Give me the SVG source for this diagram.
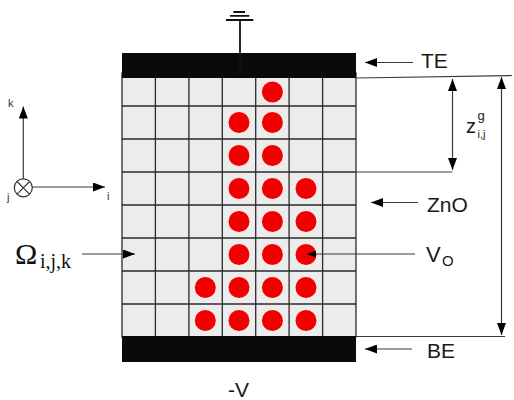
<svg xmlns="http://www.w3.org/2000/svg" width="514" height="400" viewBox="0 0 514 400">
<defs>
<style>
.cell{fill:#ececec;stroke:#2a2a2a;stroke-width:1.3}
.el{fill:#0a0a0a}
.dot{fill:#f20000}
.ln{stroke:#3a3a3a;stroke-width:1.2;fill:none}
.lbl{font-family:"Liberation Sans",Arial,sans-serif;fill:#1a1a1a}
.ax{font-family:"Liberation Sans",Arial,sans-serif;fill:#333;font-size:11px}
.om{font-family:"Liberation Serif","Times New Roman",serif;fill:#111}
</style>
<marker id="ah" viewBox="0 0 12 9" refX="12" refY="4.5" markerWidth="12" markerHeight="9" markerUnits="userSpaceOnUse" orient="auto-start-reverse">
<path d="M0,0 L12,4.5 L0,9 z" fill="#000"/>
</marker>
<marker id="ahs" viewBox="0 0 9 7" refX="9" refY="3.5" markerWidth="9" markerHeight="7" markerUnits="userSpaceOnUse" orient="auto-start-reverse">
<path d="M0,0 L9,3.5 L0,7 z" fill="#000"/>
</marker>
</defs>
<rect width="514" height="400" fill="#fff"/>

<g id="zno-grid">
<rect x="122" y="73" width="234" height="264" class="cell"/>
<path class="cell" style="fill:none" d="M155.4,73V337M188.9,73V337M222.3,73V337M255.7,73V337M289.1,73V337M322.6,73V337M122,106H356M122,139H356M122,172H356M122,205H356M122,238H356M122,271H356M122,304H356"/>
</g>

<g id="vacancies">
<circle class="dot" cx="272.4" cy="92" r="10.5"/>
<circle class="dot" cx="239" cy="122.5" r="10.5"/>
<circle class="dot" cx="272.4" cy="122.5" r="10.5"/>
<circle class="dot" cx="239" cy="155.5" r="10.5"/>
<circle class="dot" cx="272.4" cy="155.5" r="10.5"/>
<circle class="dot" cx="239" cy="188.5" r="10.5"/>
<circle class="dot" cx="272.4" cy="188.5" r="10.5"/>
<circle class="dot" cx="306" cy="188.5" r="10.5"/>
<circle class="dot" cx="239" cy="221.5" r="10.5"/>
<circle class="dot" cx="272.4" cy="221.5" r="10.5"/>
<circle class="dot" cx="306" cy="221.5" r="10.5"/>
<circle class="dot" cx="239" cy="254.5" r="10.5"/>
<circle class="dot" cx="272.4" cy="254.5" r="10.5"/>
<circle class="dot" cx="306" cy="254.5" r="10.5"/>
<circle class="dot" cx="205.3" cy="287.5" r="10.5"/>
<circle class="dot" cx="239" cy="287.5" r="10.5"/>
<circle class="dot" cx="272.4" cy="287.5" r="10.5"/>
<circle class="dot" cx="306" cy="287.5" r="10.5"/>
<circle class="dot" cx="205.3" cy="320.5" r="10.5"/>
<circle class="dot" cx="239" cy="320.5" r="10.5"/>
<circle class="dot" cx="272.4" cy="320.5" r="10.5"/>
<circle class="dot" cx="306" cy="320.5" r="10.5"/>
</g>

<g id="top-electrode">
<rect class="el" x="122" y="53" width="234" height="25"/>
</g>
<g id="bottom-electrode">
<rect class="el" x="122" y="336" width="234" height="26"/>
</g>

<g id="ground">
<path d="M240,20V76M226,20H253.3M230,15.8H249.3M233.3,12H245" stroke="#111" stroke-width="1.8" fill="none"/>
</g>

<g id="axes">
<circle cx="23.3" cy="187.8" r="9" fill="#fff" stroke="#333" stroke-width="1.2"/>
<path d="M17,181.5L29.6,194.1M29.6,181.5L17,194.1" stroke="#333" stroke-width="1.1"/>
<text class="ax" x="8" y="107">k</text>
<text class="ax" x="107" y="200">i</text>
<text class="ax" x="7" y="201">j</text>
</g>

<g id="connectors">
<line class="ln" x1="23.3" y1="178.8" x2="23.3" y2="106.5" marker-end="url(#ah)"/>
<line class="ln" x1="32.3" y1="187" x2="105" y2="187" marker-end="url(#ah)"/>
<line class="ln" x1="82" y1="254" x2="135" y2="254" marker-end="url(#ah)"/>
<line class="ln" x1="413" y1="62.5" x2="365" y2="62.5" marker-end="url(#ah)"/>
<line class="ln" x1="418" y1="202.5" x2="371" y2="202.5" marker-end="url(#ah)"/>
<line class="ln" x1="415" y1="254" x2="307" y2="254" stroke="#666" marker-end="url(#ahs)"/>
<line class="ln" x1="412" y1="349" x2="365" y2="349" marker-end="url(#ah)"/>
<line class="ln" x1="356" y1="78" x2="512" y2="75.5"/>
<line class="ln" x1="356" y1="172" x2="452.5" y2="172"/>
<line class="ln" x1="356" y1="336.5" x2="505" y2="336.5"/>
<line class="ln" x1="452.5" y1="79" x2="452.5" y2="170" marker-start="url(#ah)" marker-end="url(#ah)"/>
<line class="ln" x1="501.5" y1="77" x2="501.5" y2="335" marker-start="url(#ah)" marker-end="url(#ah)"/>
</g>

<g id="labels">
<text class="lbl" x="421" y="68" font-size="21">TE</text>
<text class="lbl" x="427" y="212" font-size="21">ZnO</text>
<text class="lbl" x="426" y="262" font-size="22">V</text>
<text class="lbl" x="442" y="266" font-size="15">O</text>
<text class="lbl" x="427" y="358" font-size="21">BE</text>
<text class="lbl" x="228" y="397" font-size="21">-V</text>
<text class="lbl" x="466" y="133" font-size="20">z</text>
<text class="lbl" x="477.5" y="119.5" font-size="13">g</text>
<text class="lbl" x="477.5" y="137.5" font-size="11" fill="#333">i,j</text>
<text class="om" x="15" y="264" font-size="30">Ω</text>
<text class="om" x="40" y="268" font-size="20">i,j,k</text>
</g>
</svg>
